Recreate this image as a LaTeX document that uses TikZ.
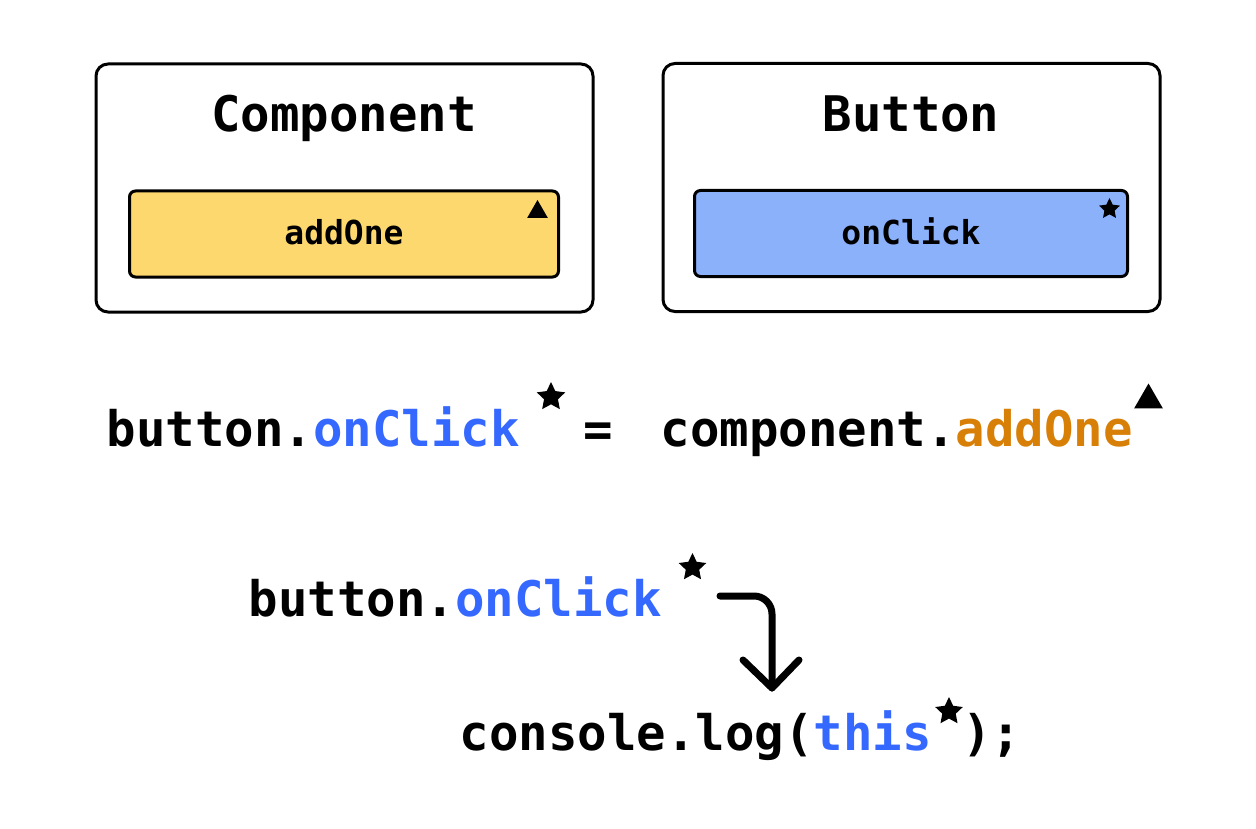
\documentclass[tikz,border=0pt]{standalone}
\usepackage{fontspec}
\newfontfamily\codefont{DejaVu Sans Mono}
\usetikzlibrary{shapes.geometric}
\definecolor{boxyellow}{HTML}{FDD86E}
\definecolor{boxblue}{HTML}{8AB1FA}
\definecolor{codeblue}{HTML}{3468FF}
\definecolor{codeorange}{HTML}{D77F06}
\tikzset{
  outerbox/.style={draw, line width=3pt, rounded corners=12pt, minimum width=497pt, minimum height=248pt, inner sep=0pt},
  innerbox/.style={draw, line width=3pt, rounded corners=6pt, minimum height=86pt, inner sep=0pt},
  bigcode/.style={inner sep=0pt, font=\codefont\bfseries\fontsize{49}{59}\selectfont},
  smallcode/.style={inner sep=0pt, font=\codefont\bfseries\fontsize{33}{40}\selectfont},
  starmark/.style={star, star points=5, star point ratio=2.05, fill=black, draw=none, inner sep=0pt},
  trimark/.style={regular polygon, regular polygon sides=3, fill=black, draw=none, inner sep=0pt},
  flowarrow/.style={line width=7pt, line cap=round, line join=round}
}
\begin{document}
\begin{tikzpicture}[x=1pt,y=-1pt]
\useasboundingbox (0,0) rectangle (1256,829);
% boxes
\node[outerbox] (compbox) at (344.5,188) {};
\node[outerbox] (btnbox) at (911.5,187.5) {};
\node[innerbox, fill=boxyellow, minimum width=429pt] (addbox) at (344,234) {};
\node[innerbox, fill=boxblue, minimum width=433pt] (clickbox) at (911,233.5) {};
\node[bigcode, anchor=base] (comptitle) at (344,132) {Component};
\node[bigcode, anchor=base] (btntitle) at (911,132) {Button};
\node[smallcode, anchor=base] (addlabel) at (344,245) {addOne};
\node[smallcode, anchor=base] (clicklabel) at (911,244) {onClick};
\node[trimark, minimum size=24pt] (tri1) at (537.5,212) {};
\node[starmark, minimum size=22pt] (star1) at (1109.5,209) {};
% assignment line
\node[bigcode, anchor=base west] (lhs) at (106.5,446) {button.\textcolor{codeblue}{onClick}};
\node[starmark, minimum size=30pt] (star2) at (551,397) {};
\node[bigcode, anchor=base] (eq) at (598,446) {=};
\node[bigcode, anchor=base west] (rhs) at (660.5,446) {component.\textcolor{codeorange}{addOne}};
\node[trimark, minimum size=33pt] (tri2) at (1148.5,400) {};
% call line
\node[bigcode, anchor=base west] (call) at (248.5,616) {button.\textcolor{codeblue}{onClick}};
\node[starmark, minimum size=29pt] (star3) at (692.5,567.5) {};
\node[bigcode, anchor=base west] (logline) at (459.5,750) {console.log(\textcolor{codeblue}{this}};
\node[starmark, minimum size=29pt] (star4) at (949,711.5) {};
\node[bigcode, anchor=base west] (logend) at (962,750) {);};
% arrow
\coordinate (arrstart) at (720,596);
\coordinate (arrcorner) at (772,596);
\coordinate (arrtip) at (772,688);
\draw[flowarrow, rounded corners=18pt] (arrstart) -- (arrcorner) -- (arrtip);
\draw[flowarrow] ([shift={(-29,-28)}]arrtip) -- (arrtip) -- ([shift={(27,-28)}]arrtip);
\end{tikzpicture}
\end{document}
